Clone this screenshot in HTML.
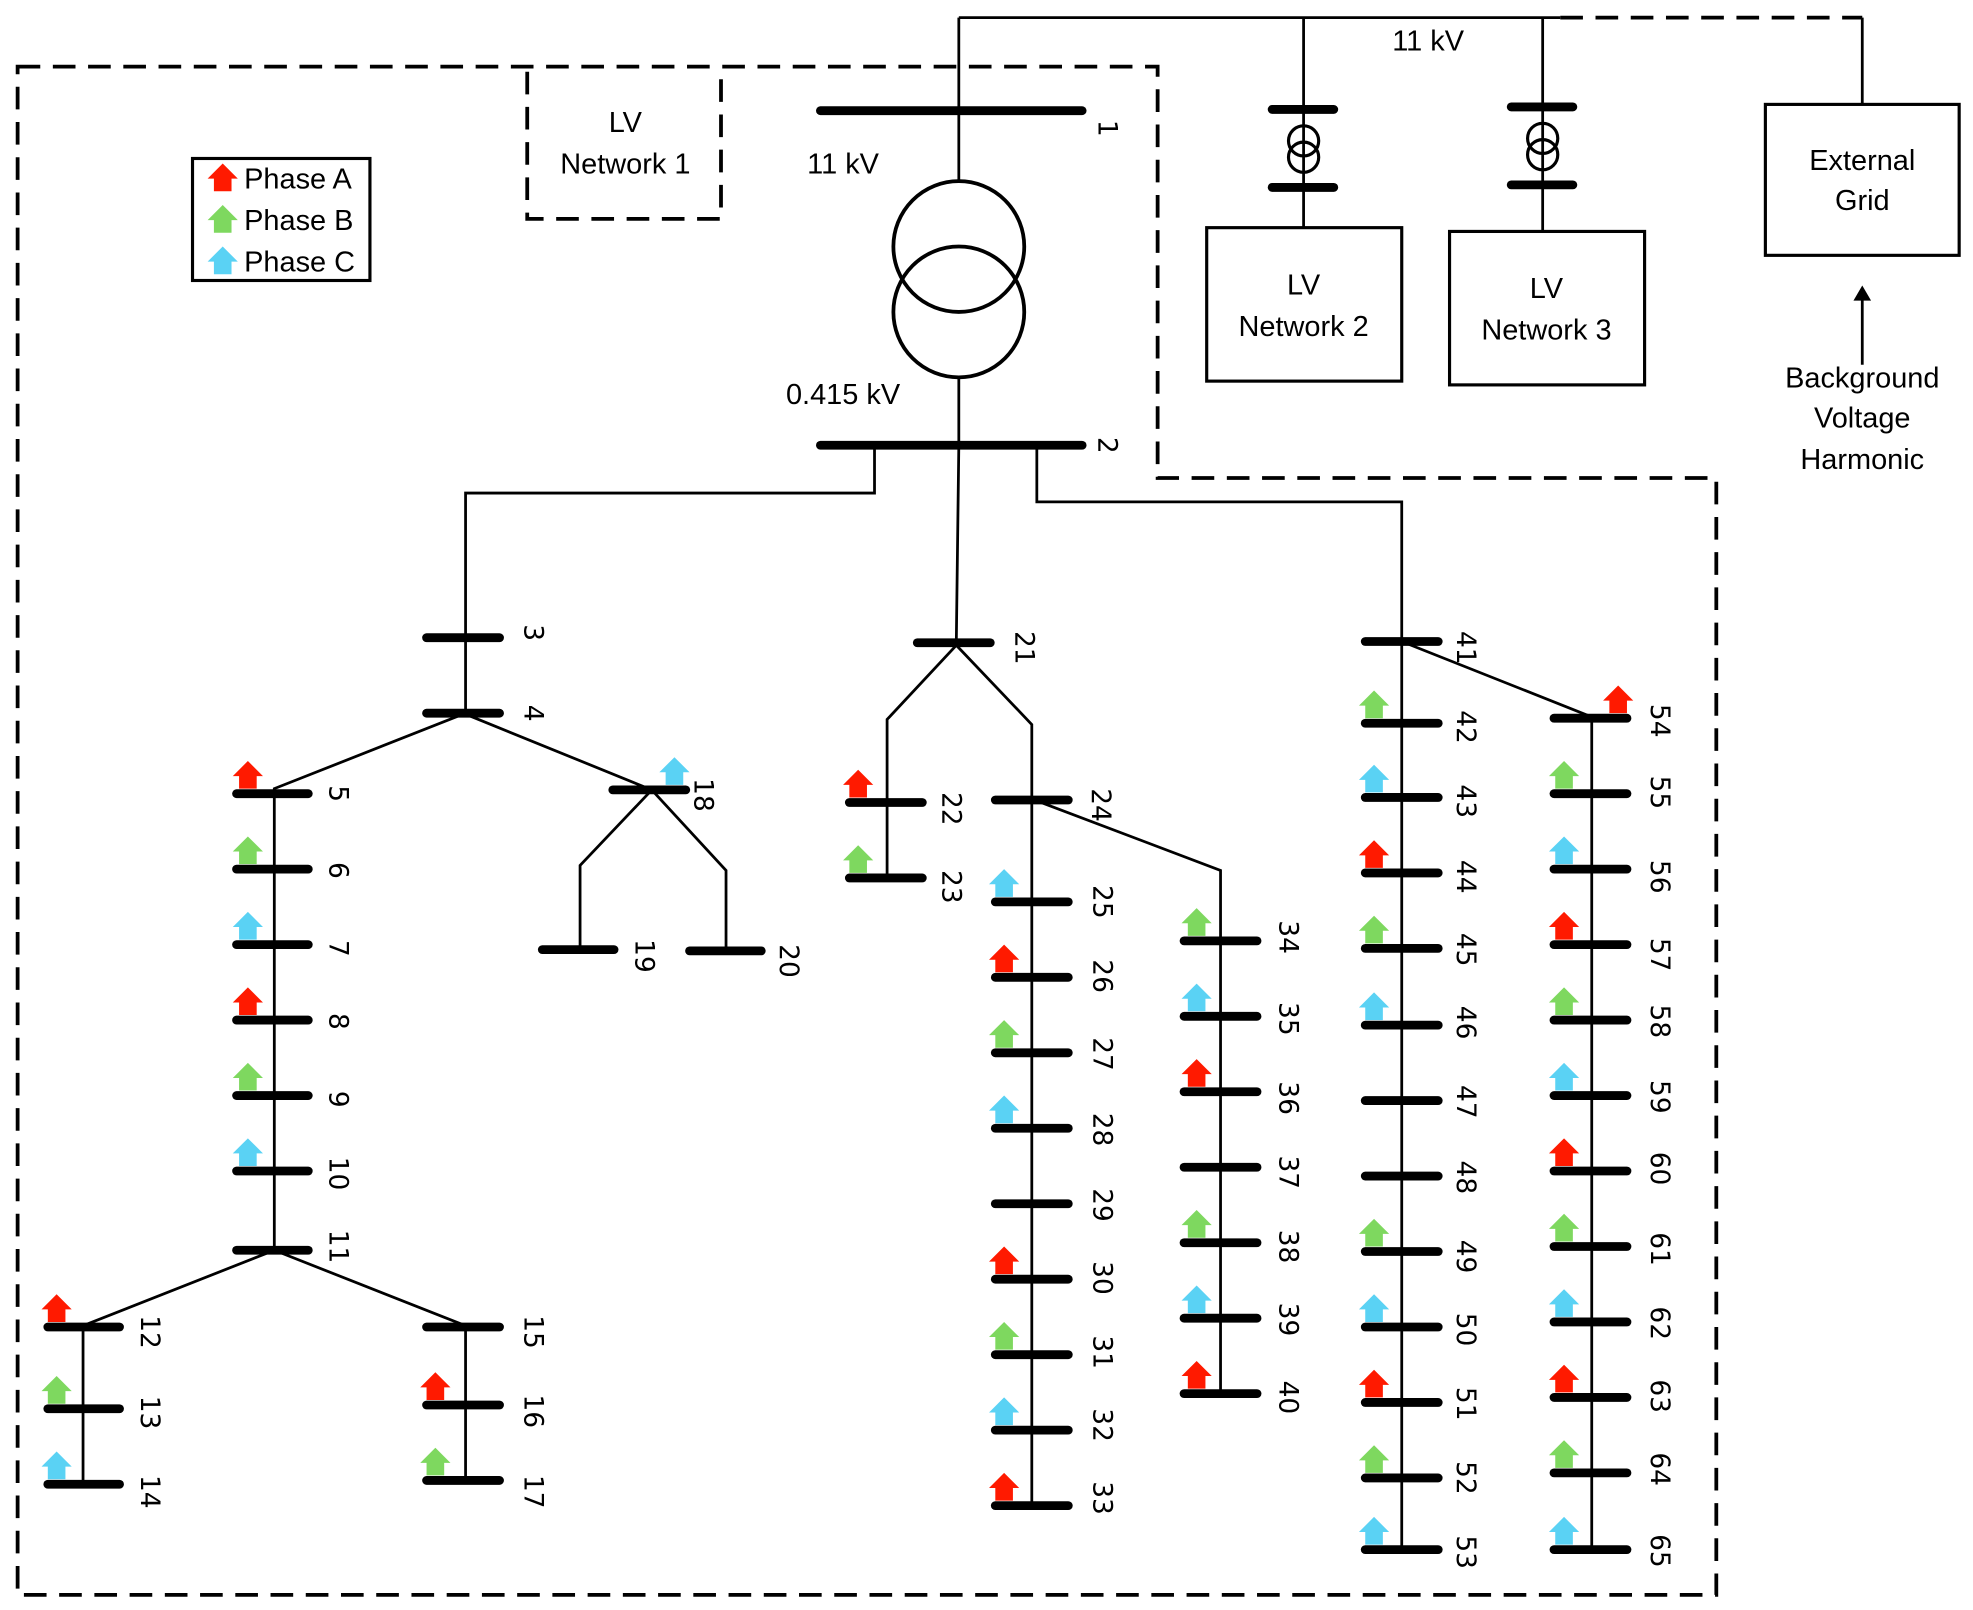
<!DOCTYPE html>
<html><head><meta charset="utf-8"><style>
html,body{margin:0;padding:0;background:#fff;}
svg{display:block;}
.b{stroke:#000;stroke-width:7;stroke-linecap:round;}
.l{stroke:#000;stroke-width:2.2;fill:none;}
.d{stroke:#000;stroke-width:3;fill:none;stroke-dasharray:18,10;}
.t{font-family:"Liberation Sans",sans-serif;font-size:23px;fill:#000;}
.n{font-family:"DejaVu Sans","Liberation Sans",sans-serif;font-size:21px;fill:#000;}
.hl{font-family:"Liberation Sans",sans-serif;font-size:8px;font-weight:bold;fill:#fff;text-anchor:middle;}
</style></head><body>
<svg width="1973" height="1610" viewBox="0 0 1568 1280" preserveAspectRatio="none" xmlns="http://www.w3.org/2000/svg">
<defs>
<polygon id="hs" points="-12,-10 0,-22 12,-10 7,-10 7,0 -7,0 -7,-10"/>
</defs>
<rect width="1568" height="1280" fill="#fff"/>
<!-- dashed boundaries -->
<path class="d" d="M14,53 H920 V380 H1364 V1268 H14 Z"/>
<path class="d" d="M419,57 V174 H573 V57"/>
<path class="l" d="M762,14 H1240"/>
<path class="d" d="M1240,14 H1480"/>
<path class="l" d="M1480,14 V83"/>
<rect x="1403" y="83" width="154" height="120" class="l" style="stroke-width:2.5"/>
<text class="t" x="1480" y="135" text-anchor="middle">External</text>
<text class="t" x="1480" y="167" text-anchor="middle">Grid</text>
<path class="l" d="M1480,290 V236"/>
<polygon points="1480,227 1473,239 1487,239" fill="#000"/>
<text class="t" x="1480" y="308" text-anchor="middle">Background</text>
<text class="t" x="1480" y="340" text-anchor="middle">Voltage</text>
<text class="t" x="1480" y="373" text-anchor="middle">Harmonic</text>
<text class="t" x="1135" y="40" text-anchor="middle">11 kV</text>
<text class="t" x="497" y="105" text-anchor="middle">LV</text>
<text class="t" x="497" y="138" text-anchor="middle">Network 1</text>
<!-- legend -->
<rect x="153" y="126" width="141" height="97" class="l" style="stroke-width:2.5"/>
<g fill="#ff1a00"><use href="#hs" x="177" y="152"/></g>
<g fill="#7ed85f"><use href="#hs" x="177" y="185"/></g>
<g fill="#5ad2f4"><use href="#hs" x="177" y="218"/></g>
<text class="t" x="194" y="150">Phase A</text>
<text class="t" x="194" y="183">Phase B</text>
<text class="t" x="194" y="216">Phase C</text>
<!-- main transformer -->
<path class="l" d="M762,14 V145"/>
<line class="b" x1="652" x2="860" y1="88" y2="88"/>
<circle cx="762" cy="196" r="52" class="l" style="stroke-width:3"/>
<circle cx="762" cy="248" r="52" class="l" style="stroke-width:3"/>
<path class="l" d="M762,300 V354 L760,511"/>
<line class="b" x1="652" x2="860" y1="354" y2="354"/>
<text class="t" x="670" y="138" text-anchor="middle">11 kV</text>
<text class="t" x="670" y="321" text-anchor="middle">0.415 kV</text>
<!-- LV2 -->
<path class="l" d="M1036,14 V181"/>
<line class="b" x1="1011" x2="1060" y1="87" y2="87"/>
<line class="b" x1="1011" x2="1060" y1="149" y2="149"/>
<ellipse cx="1036" cy="112" rx="12" ry="12" fill="#fff" class="l" style="stroke-width:2.5"/>
<ellipse cx="1036" cy="125" rx="12" ry="12" fill="none" class="l" style="stroke-width:2.5"/>
<rect x="959" y="181" width="155" height="122" class="l" style="stroke-width:2.5"/>
<text class="t" x="1036" y="234" text-anchor="middle">LV</text>
<text class="t" x="1036" y="267" text-anchor="middle">Network 2</text>
<!-- LV3 -->
<path class="l" d="M1226,14 V184"/>
<line class="b" x1="1201" x2="1250" y1="85" y2="85"/>
<line class="b" x1="1201" x2="1250" y1="147" y2="147"/>
<ellipse cx="1226" cy="110" rx="12" ry="12" fill="#fff" class="l" style="stroke-width:2.5"/>
<ellipse cx="1226" cy="123" rx="12" ry="12" fill="none" class="l" style="stroke-width:2.5"/>
<rect x="1152" y="184" width="155" height="122" class="l" style="stroke-width:2.5"/>
<text class="t" x="1229" y="237" text-anchor="middle">LV</text>
<text class="t" x="1229" y="270" text-anchor="middle">Network 3</text>
<!-- feeders -->
<path class="l" d="M695,354 V392 H370 V567 L218,627 V994 L66,1054 V1180 M218,994 L370,1054 V1177 M368,567 L518,628 L461,688 V755 M518,628 L577,692 V756"/>
<path class="l" d="M760,513 L705,572 V698 M760,513 L820,576 V1197 M822,636 L970,692 V1108"/>
<path class="l" d="M824,354 V399 H1114 V1232 M1114,510 L1265,570 V1232"/>
<!-- buses -->
<g>
<line class="b" x1="339" x2="397" y1="507" y2="507"/><line class="b" x1="339" x2="397" y1="567" y2="567"/>
<line class="b" x1="188" x2="245" y1="631" y2="631"/><line class="b" x1="188" x2="245" y1="691" y2="691"/>
<line class="b" x1="188" x2="245" y1="751" y2="751"/><line class="b" x1="188" x2="245" y1="811" y2="811"/>
<line class="b" x1="188" x2="245" y1="871" y2="871"/><line class="b" x1="188" x2="245" y1="931" y2="931"/>
<line class="b" x1="188" x2="245" y1="994" y2="994"/>
<line class="b" x1="38" x2="95" y1="1055" y2="1055"/><line class="b" x1="38" x2="95" y1="1120" y2="1120"/><line class="b" x1="38" x2="95" y1="1180" y2="1180"/>
<line class="b" x1="339" x2="397" y1="1055" y2="1055"/><line class="b" x1="339" x2="397" y1="1117" y2="1117"/><line class="b" x1="339" x2="397" y1="1177" y2="1177"/>
<line class="b" x1="487" x2="545" y1="628" y2="628"/>
<line class="b" x1="431" x2="488" y1="755" y2="755"/><line class="b" x1="548" x2="605" y1="756" y2="756"/>
<line class="b" x1="729" x2="787" y1="511" y2="511"/>
<line class="b" x1="675" x2="733" y1="638" y2="638"/><line class="b" x1="675" x2="733" y1="698" y2="698"/>
<line class="b" x1="791" x2="849" y1="636" y2="636"/>
<line class="b" x1="791" x2="849" y1="717" y2="717"/><line class="b" x1="791" x2="849" y1="777" y2="777"/>
<line class="b" x1="791" x2="849" y1="837" y2="837"/><line class="b" x1="791" x2="849" y1="897" y2="897"/>
<line class="b" x1="791" x2="849" y1="957" y2="957"/><line class="b" x1="791" x2="849" y1="1017" y2="1017"/>
<line class="b" x1="791" x2="849" y1="1077" y2="1077"/><line class="b" x1="791" x2="849" y1="1137" y2="1137"/>
<line class="b" x1="791" x2="849" y1="1197" y2="1197"/>
<line class="b" x1="941" x2="999" y1="748" y2="748"/><line class="b" x1="941" x2="999" y1="808" y2="808"/>
<line class="b" x1="941" x2="999" y1="868" y2="868"/><line class="b" x1="941" x2="999" y1="928" y2="928"/>
<line class="b" x1="941" x2="999" y1="988" y2="988"/><line class="b" x1="941" x2="999" y1="1048" y2="1048"/>
<line class="b" x1="941" x2="999" y1="1108" y2="1108"/>
<line class="b" x1="1085" x2="1143" y1="510" y2="510"/>
<line class="b" x1="1085" x2="1143" y1="575" y2="575"/><line class="b" x1="1085" x2="1143" y1="634" y2="634"/>
<line class="b" x1="1085" x2="1143" y1="694" y2="694"/><line class="b" x1="1085" x2="1143" y1="754" y2="754"/>
<line class="b" x1="1085" x2="1143" y1="815" y2="815"/><line class="b" x1="1085" x2="1143" y1="875" y2="875"/>
<line class="b" x1="1085" x2="1143" y1="935" y2="935"/><line class="b" x1="1085" x2="1143" y1="995" y2="995"/>
<line class="b" x1="1085" x2="1143" y1="1055" y2="1055"/><line class="b" x1="1085" x2="1143" y1="1115" y2="1115"/>
<line class="b" x1="1085" x2="1143" y1="1175" y2="1175"/><line class="b" x1="1085" x2="1143" y1="1232" y2="1232"/>
<line class="b" x1="1235" x2="1293" y1="571" y2="571"/><line class="b" x1="1235" x2="1293" y1="631" y2="631"/>
<line class="b" x1="1235" x2="1293" y1="691" y2="691"/><line class="b" x1="1235" x2="1293" y1="751" y2="751"/>
<line class="b" x1="1235" x2="1293" y1="811" y2="811"/><line class="b" x1="1235" x2="1293" y1="871" y2="871"/>
<line class="b" x1="1235" x2="1293" y1="931" y2="931"/><line class="b" x1="1235" x2="1293" y1="991" y2="991"/>
<line class="b" x1="1235" x2="1293" y1="1051" y2="1051"/><line class="b" x1="1235" x2="1293" y1="1111" y2="1111"/>
<line class="b" x1="1235" x2="1293" y1="1171" y2="1171"/><line class="b" x1="1235" x2="1293" y1="1232" y2="1232"/>
</g>
<!-- houses A -->
<g fill="#ff1a00">
<use href="#hs" x="197" y="627"/><use href="#hs" x="197" y="807"/><use href="#hs" x="45" y="1051"/>
<use href="#hs" x="346" y="1113"/><use href="#hs" x="682" y="634"/><use href="#hs" x="798" y="773"/>
<use href="#hs" x="798" y="1013"/><use href="#hs" x="798" y="1193"/><use href="#hs" x="951" y="864"/>
<use href="#hs" x="951" y="1104"/><use href="#hs" x="1092" y="690"/><use href="#hs" x="1092" y="1111"/>
<use href="#hs" x="1286" y="567"/><use href="#hs" x="1243" y="747"/><use href="#hs" x="1243" y="927"/>
<use href="#hs" x="1243" y="1107"/>
</g>
<!-- houses B -->
<g fill="#7ed85f">
<use href="#hs" x="197" y="687"/><use href="#hs" x="197" y="867"/><use href="#hs" x="45" y="1116"/>
<use href="#hs" x="346" y="1173"/><use href="#hs" x="682" y="694"/><use href="#hs" x="798" y="833"/>
<use href="#hs" x="798" y="1073"/><use href="#hs" x="951" y="744"/><use href="#hs" x="951" y="984"/>
<use href="#hs" x="1092" y="571"/><use href="#hs" x="1092" y="750"/><use href="#hs" x="1092" y="991"/>
<use href="#hs" x="1092" y="1171"/><use href="#hs" x="1243" y="627"/><use href="#hs" x="1243" y="807"/>
<use href="#hs" x="1243" y="987"/><use href="#hs" x="1243" y="1167"/>
</g>
<!-- houses C -->
<g fill="#5ad2f4">
<use href="#hs" x="197" y="747"/><use href="#hs" x="197" y="927"/><use href="#hs" x="45" y="1176"/>
<use href="#hs" x="536" y="624"/><use href="#hs" x="798" y="713"/><use href="#hs" x="798" y="893"/>
<use href="#hs" x="798" y="1133"/><use href="#hs" x="951" y="804"/><use href="#hs" x="951" y="1044"/>
<use href="#hs" x="1092" y="630"/><use href="#hs" x="1092" y="811"/><use href="#hs" x="1092" y="1051"/>
<use href="#hs" x="1092" y="1228"/><use href="#hs" x="1243" y="687"/><use href="#hs" x="1243" y="867"/>
<use href="#hs" x="1243" y="1047"/><use href="#hs" x="1243" y="1228"/>
</g>
<!-- labels (rotated) -->
<g class="n" text-anchor="middle">
<text transform="translate(873,102) rotate(90)">1</text>
<text transform="translate(873,354) rotate(90)">2</text>
<text transform="translate(417,503) rotate(90)">3</text>
<text transform="translate(417,567) rotate(90)">4</text>
<text transform="translate(262,631) rotate(90)">5</text>
<text transform="translate(262,692) rotate(90)">6</text>
<text transform="translate(262,754) rotate(90)">7</text>
<text transform="translate(262,812) rotate(90)">8</text>
<text transform="translate(262,874) rotate(90)">9</text>
<text transform="translate(262,933) rotate(90)">10</text>
<text transform="translate(262,991) rotate(90)">11</text>
<text transform="translate(112,1059) rotate(90)">12</text>
<text transform="translate(112,1123) rotate(90)">13</text>
<text transform="translate(112,1186) rotate(90)">14</text>
<text transform="translate(417,1059) rotate(90)">15</text>
<text transform="translate(417,1122) rotate(90)">16</text>
<text transform="translate(417,1186) rotate(90)">17</text>
<text transform="translate(552,632) rotate(90)">18</text>
<text transform="translate(505,760) rotate(90)">19</text>
<text transform="translate(620,764) rotate(90)">20</text>
<text transform="translate(807,515) rotate(90)">21</text>
<text transform="translate(749,643) rotate(90)">22</text>
<text transform="translate(749,705) rotate(90)">23</text>
<text transform="translate(868,640) rotate(90)">24</text>
<text transform="translate(869,717) rotate(90)">25</text>
<text transform="translate(869,776) rotate(90)">26</text>
<text transform="translate(869,838) rotate(90)">27</text>
<text transform="translate(869,898) rotate(90)">28</text>
<text transform="translate(869,958) rotate(90)">29</text>
<text transform="translate(869,1016) rotate(90)">30</text>
<text transform="translate(869,1075) rotate(90)">31</text>
<text transform="translate(869,1133) rotate(90)">32</text>
<text transform="translate(869,1191) rotate(90)">33</text>
<text transform="translate(1017,745) rotate(90)">34</text>
<text transform="translate(1017,810) rotate(90)">35</text>
<text transform="translate(1017,873) rotate(90)">36</text>
<text transform="translate(1017,932) rotate(90)">37</text>
<text transform="translate(1017,991) rotate(90)">38</text>
<text transform="translate(1017,1049) rotate(90)">39</text>
<text transform="translate(1017,1111) rotate(90)">40</text>
<text transform="translate(1158,515) rotate(90)">41</text>
<text transform="translate(1158,578) rotate(90)">42</text>
<text transform="translate(1158,637) rotate(90)">43</text>
<text transform="translate(1158,697) rotate(90)">44</text>
<text transform="translate(1158,755) rotate(90)">45</text>
<text transform="translate(1158,813) rotate(90)">46</text>
<text transform="translate(1158,876) rotate(90)">47</text>
<text transform="translate(1158,936) rotate(90)">48</text>
<text transform="translate(1158,999) rotate(90)">49</text>
<text transform="translate(1158,1057) rotate(90)">50</text>
<text transform="translate(1158,1116) rotate(90)">51</text>
<text transform="translate(1158,1175) rotate(90)">52</text>
<text transform="translate(1158,1234) rotate(90)">53</text>
<text transform="translate(1312,573) rotate(90)">54</text>
<text transform="translate(1312,630) rotate(90)">55</text>
<text transform="translate(1312,697) rotate(90)">56</text>
<text transform="translate(1312,759) rotate(90)">57</text>
<text transform="translate(1312,812) rotate(90)">58</text>
<text transform="translate(1312,872) rotate(90)">59</text>
<text transform="translate(1312,929) rotate(90)">60</text>
<text transform="translate(1312,993) rotate(90)">61</text>
<text transform="translate(1312,1052) rotate(90)">62</text>
<text transform="translate(1312,1110) rotate(90)">63</text>
<text transform="translate(1312,1168) rotate(90)">64</text>
<text transform="translate(1312,1233) rotate(90)">65</text>
</g>
</svg>
</body></html>
